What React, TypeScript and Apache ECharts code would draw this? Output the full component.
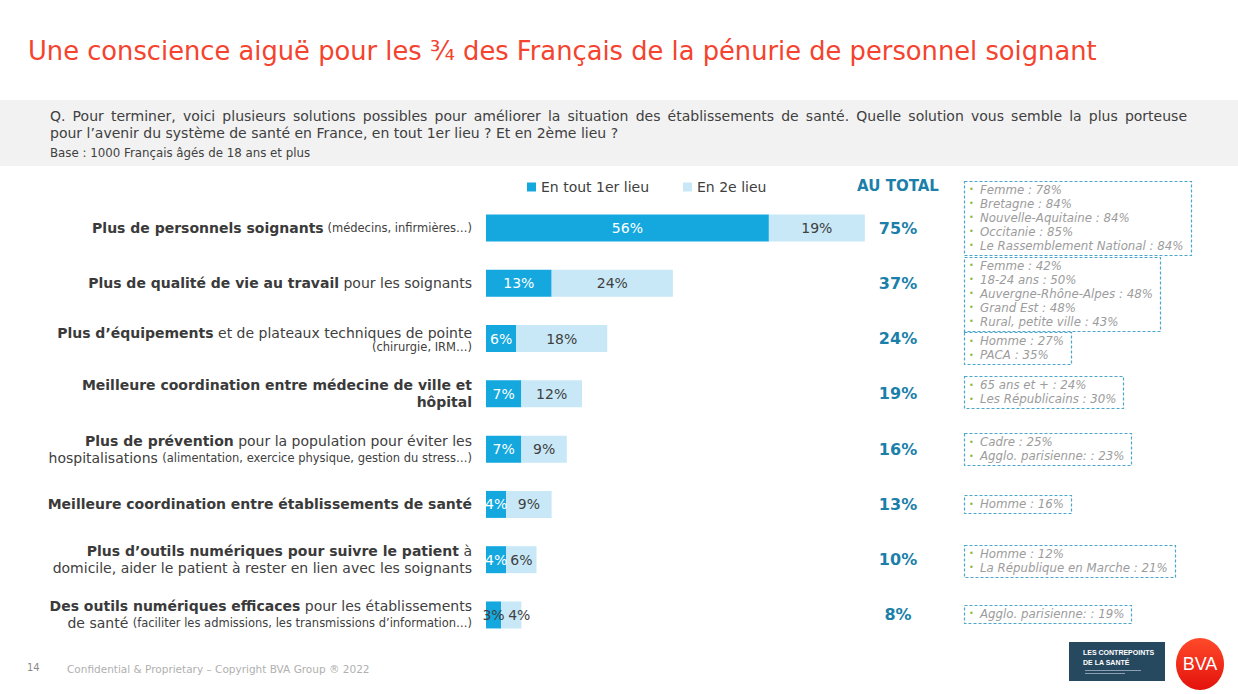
import React, { useEffect, useRef } from 'react';
import * as echarts from 'echarts';

const categories = [
  '{b|Plus de personnels soignants} {s|(médecins, infirmières…)}',
  '{b|Plus de qualité de vie au travail}{n| pour les soignants}',
  '{b|Plus d’équipements}{n| et de plateaux techniques de pointe}\n{s|(chirurgie, IRM…)}',
  '{b|Meilleure coordination entre médecine de ville et}\n{b|hôpital}',
  '{b|Plus de prévention}{n| pour la population pour éviter les}\n{n|hospitalisations }{s|(alimentation, exercice physique, gestion du stress…)}',
  '{b|Meilleure coordination entre établissements de santé}',
  '{b|Plus d’outils numériques pour suivre le patient}{n| à}\n{n|domicile, aider le patient à rester en lien avec les soignants}',
  '{b|Des outils numériques efficaces}{n| pour les établissements}\n{n|de santé }{s|(faciliter les admissions, les transmissions d’information…)}',
];
const seriesNames = ['En tout 1er lieu', 'En 2e lieu'];
const firstPlace = [56, 13, 6, 7, 7, 4, 4, 3];
const secondPlace = [19, 24, 18, 12, 9, 9, 6, 4];
const totals = [75, 37, 24, 19, 16, 13, 10, 8];
const highlights = [
  ['Femme : 78%', 'Bretagne : 84%', 'Nouvelle-Aquitaine : 84%', 'Occitanie : 85%', 'Le Rassemblement National : 84%'],
  ['Femme : 42%', '18-24 ans : 50%', 'Auvergne-Rhône-Alpes : 48%', 'Grand Est : 48%', 'Rural, petite ville : 43%'],
  ['Homme : 27%', 'PACA : 35%'],
  ['65 ans et + : 24%', 'Les Républicains : 30%'],
  ['Cadre : 25%', 'Agglo. parisienne: : 23%'],
  ['Homme : 16%'],
  ['Homme : 12%', 'La République en Marche : 21%'],
  ['Agglo. parisienne: : 19%'],
];
const titleText = 'Une conscience aiguë pour les ¾ des Français de la pénurie de personnel soignant';
const questionLine1 =
  'Q. Pour terminer, voici plusieurs solutions possibles pour améliorer la situation des établissements de santé. Quelle solution vous semble la plus porteuse';
const questionLine2 = 'pour l’avenir du système de santé en France, en tout 1er lieu ? Et en 2ème lieu ?';
const baseText = 'Base : 1000 Français âgés de 18 ans et plus';
const totalHeader = 'AU TOTAL';
const footerPage = '14';
const footerText = 'Confidential & Proprietary – Copyright BVA Group ® 2022';

const FONT = 'DejaVu Sans';
const DARK = '#404040';
const BLUE = '#14a8df';
const LIGHT = '#c8e8f7';
const TEAL = '#1b7fa9';

export default function App() {
  const ref = useRef<HTMLDivElement>(null);
  useEffect(() => {
    const chart = echarts.init(ref.current!, null, { renderer: 'svg' });
    const richBase = { align: 'right' as const, color: DARK, fontFamily: FONT };
    chart.setOption({
      animation: false,
      textStyle: { fontFamily: FONT },
      legend: {
        data: seriesNames,
        left: 527,
        top: 180,
        icon: 'rect',
        itemWidth: 9,
        itemHeight: 9,
        itemGap: 34,
        padding: 0,
        textStyle: { fontSize: 14, color: DARK, fontFamily: FONT },
      },
      grid: { left: 486, top: 200.4, width: 394, height: 442.2, containLabel: false },
      xAxis: { type: 'value', min: 0, max: 78, show: false },
      yAxis: [
        {
          type: 'category',
          inverse: true,
          data: categories,
          axisLine: { show: false },
          axisTick: { show: false },
          splitLine: { show: false },
          axisLabel: {
            interval: 0,
            margin: 14,
            rich: {
              b: { ...richBase, fontSize: 14, fontWeight: 'bold', lineHeight: 17, color: '#3a3a3a' },
              n: { ...richBase, fontSize: 14, lineHeight: 17 },
              s: { ...richBase, fontSize: 11.5, lineHeight: 12 },
            },
          },
        },
        {
          type: 'category',
          inverse: true,
          position: 'right',
          data: totals.map((v) => v + '%'),
          axisLine: { show: false },
          axisTick: { show: false },
          axisLabel: {
            interval: 0,
            margin: 18,
            align: 'center',
            fontSize: 16,
            fontWeight: 'bold',
            color: TEAL,
            fontFamily: FONT,
          },
        },
      ],
      series: [
        {
          name: seriesNames[0],
          type: 'bar',
          stack: 'total',
          barWidth: 27,
          yAxisIndex: 0,
          itemStyle: { color: BLUE },
          data: firstPlace.map((v) => (v < 4 ? { value: v, label: { color: DARK } } : { value: v })),
          label: { show: true, position: 'inside', color: '#fff', fontSize: 14, fontFamily: FONT, formatter: '{c}%' },
        },
        {
          name: seriesNames[1],
          type: 'bar',
          stack: 'total',
          barWidth: 27,
          yAxisIndex: 0,
          itemStyle: { color: LIGHT },
          data: secondPlace.map((v, i) => (firstPlace[i] < 4 ? { value: v, label: { offset: [8, 0] } } : { value: v })),
          label: { show: true, position: 'inside', color: DARK, fontSize: 14, fontFamily: FONT, formatter: '{c}%' },
        },
      ],
    });

    const canvas = document.createElement('canvas');
    const ctx = canvas.getContext('2d')!;
    const graphics: any[] = [];

    // title, sized to span the same width as the reference
    ctx.font = `26px '${FONT}'`;
    const titleSize = Math.min(28, (26 * 1069) / ctx.measureText(titleText).width);
    graphics.push({
      type: 'text',
      x: 28,
      y: 51,
      style: { text: titleText, fontSize: titleSize, fontFamily: FONT, verticalAlign: 'middle', fill: '#f4432e' },
    });

    // header band
    graphics.push({ type: 'rect', shape: { x: 0, y: 100, width: 1238, height: 66 }, style: { fill: '#f2f2f2' }, z: -10 });
    // justified first line
    ctx.font = `14px '${FONT}'`;
    const words = questionLine1.split(' ');
    const widths = words.map((w) => ctx.measureText(w).width);
    const sum = widths.reduce((a, b) => a + b, 0);
    const gap = (1187 - 50 - sum) / (words.length - 1);
    let wx = 50;
    words.forEach((w, k) => {
      graphics.push({ type: 'text', x: wx, y: 116, style: { text: w, fontSize: 14, fontFamily: FONT, fill: DARK, verticalAlign: 'middle' } });
      wx += widths[k] + gap;
    });
    graphics.push({ type: 'text', x: 50, y: 133, style: { text: questionLine2, fontSize: 14, fontFamily: FONT, fill: DARK, verticalAlign: 'middle' } });
    graphics.push({ type: 'text', x: 50, y: 153, style: { text: baseText, fontSize: 11.8, fontFamily: FONT, fill: DARK, verticalAlign: 'middle' } });
    graphics.push({
      type: 'text',
      x: 898,
      y: 186,
      style: { text: totalHeader, fontSize: 15, fontWeight: 'bold', fontFamily: FONT, fill: TEAL, align: 'center', verticalAlign: 'middle' },
    });

    // highlight boxes
    const BOX_FS = 11.8;
    ctx.font = `italic ${BOX_FS}px '${FONT}'`;
    const offsets = [-10.5, 10.5, 9.5, -1.5, 0, 0, 1, -1];
    highlights.forEach((lines, i) => {
      const cy = (chart.convertToPixel({ yAxisIndex: 0 }, i) as number) + offsets[i];
      const h = lines.length * 14 + 4;
      const top = cy - h / 2;
      const maxW = Math.max(...lines.map((l) => ctx.measureText(l).width));
      const w = 980 + maxW + 7 - 964;
      graphics.push({
        type: 'rect',
        shape: { x: 964.5, y: Math.round(top) + 0.5, width: Math.round(w), height: h },
        style: { fill: 'none', stroke: '#4ba6c9', lineWidth: 1.2, lineDash: [3, 2] },
      });
      lines.forEach((l, j) => {
        const ly = top + 2 + 14 * j + 7;
        graphics.push({ type: 'text', x: 969, y: ly, style: { text: '•', fontSize: 8, fill: '#8cb83c', verticalAlign: 'middle', fontFamily: FONT } });
        graphics.push({
          type: 'text',
          x: 980,
          y: ly,
          style: { text: l, fontSize: BOX_FS, fontStyle: 'italic', fontFamily: FONT, fill: '#9c9c9c', verticalAlign: 'middle' },
        });
      });
    });

    // footer
    graphics.push({ type: 'text', x: 27, y: 667, style: { text: footerPage, fontSize: 10, fontFamily: FONT, fill: '#8a8a8a', verticalAlign: 'middle' } });
    graphics.push({ type: 'text', x: 67, y: 669, style: { text: footerText, fontSize: 10.5, fontFamily: FONT, fill: '#b0b0b0', verticalAlign: 'middle' } });
    // logos
    graphics.push({ type: 'rect', shape: { x: 1069, y: 642, width: 96, height: 39 }, style: { fill: '#27495f' } });
    graphics.push({ type: 'text', x: 1083, y: 652, style: { text: 'LES CONTREPOINTS', fontSize: 7, fontWeight: 'bold', fontFamily: 'Liberation Sans', fill: '#fff', verticalAlign: 'middle' } });
    graphics.push({ type: 'text', x: 1083, y: 662, style: { text: 'DE LA SANTÉ', fontSize: 7, fontWeight: 'bold', fontFamily: 'Liberation Sans', fill: '#fff', verticalAlign: 'middle' } });
    graphics.push({ type: 'rect', shape: { x: 1085, y: 670, width: 56, height: 1 }, style: { fill: '#8aa0b0' } });
    graphics.push({ type: 'rect', shape: { x: 1085, y: 673, width: 40, height: 1 }, style: { fill: '#8aa0b0' } });
    graphics.push({
      type: 'ellipse',
      shape: { cx: 1200, cy: 664, rx: 24, ry: 26 },
      style: {
        fill: new echarts.graphic.LinearGradient(0, 0, 0, 1, [
          { offset: 0, color: '#ff4a2a' },
          { offset: 1, color: '#e3120c' },
        ]),
      },
    });
    graphics.push({ type: 'text', x: 1200, y: 664, style: { text: 'BVA', fontSize: 18, fontFamily: 'Liberation Sans', fill: '#fff', align: 'center', verticalAlign: 'middle' } });

    chart.setOption({ graphic: graphics });
    return () => chart.dispose();
  }, []);
  return <div ref={ref} style={{ position: 'absolute', left: 0, top: 0, width: 1238, height: 694, background: '#fff' }} />;
}
